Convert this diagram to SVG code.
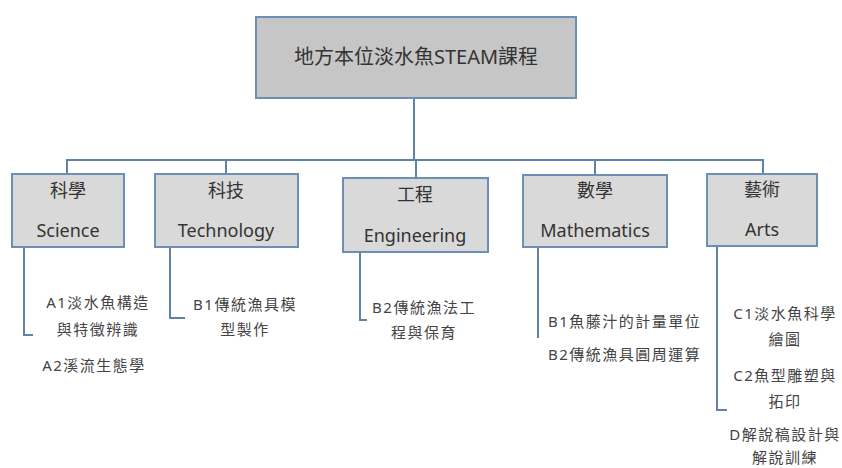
<svg xmlns="http://www.w3.org/2000/svg" width="842" height="468" viewBox="0 0 842 468">
<style>
text{font-family:"Noto Sans","Noto Sans CJK TC",sans-serif;fill:#333;text-anchor:middle}
.root rect{fill:#c6c6c6;stroke:#6d8fb5;stroke-width:2}
.cat rect{fill:#d9d9d9;stroke:#6d8fb5;stroke-width:2}
.title{font-size:20px}
.lab{font-size:18px}
.item{font-size:15px;letter-spacing:1.5px;fill:#444}
.conn path{fill:none;stroke:#5f82aa;stroke-width:2}
</style>
<rect width="842" height="468" fill="#fff"/>
<g class="conn">
<path d="M414 98V160"/>
<path d="M67 174V160H763V174"/>
<path d="M226 174V160"/>
<path d="M416 178V160"/>
<path d="M595 175V160"/>
<path d="M24 247V335H33"/>
<path d="M170 247V318H185"/>
<path d="M360 252V320H367"/>
<path d="M538 247V338"/>
<path d="M717 246V410H727"/>
</g>
<g id="root" class="root">
<rect x="256" y="17" width="320" height="81"/>
<text class="title" x="416" y="64">地方本位淡水魚STEAM課程</text>
</g>
<g id="science" class="cat">
<rect x="12" y="174" width="112" height="73"/>
<text class="lab" x="68" y="197">科學</text>
<text class="lab" x="68" y="237">Science</text>
</g>
<g id="technology" class="cat">
<rect x="155" y="174" width="143" height="73"/>
<text class="lab" x="226" y="197">科技</text>
<text class="lab" x="226" y="237">Technology</text>
</g>
<g id="engineering" class="cat">
<rect x="343" y="178" width="145" height="74"/>
<text class="lab" x="415" y="201">工程</text>
<text class="lab" x="415" y="242">Engineering</text>
</g>
<g id="mathematics" class="cat">
<rect x="523" y="175" width="144" height="72"/>
<text class="lab" x="595" y="197">數學</text>
<text class="lab" x="595" y="237">Mathematics</text>
</g>
<g id="arts" class="cat">
<rect x="707" y="174" width="110" height="72"/>
<text class="lab" x="762" y="196">藝術</text>
<text class="lab" x="762" y="236">Arts</text>
</g>
<g id="science-items">
<text class="item" x="98" y="308">A1淡水魚構造</text>
<text class="item" x="98" y="335">與特徵辨識</text>
<text class="item" x="94" y="371">A2溪流生態學</text>
</g>
<g id="technology-items">
<text class="item" x="245" y="310">B1傳統漁具模</text>
<text class="item" x="245" y="335">型製作</text>
</g>
<g id="engineering-items">
<text class="item" x="424" y="313">B2傳統漁法工</text>
<text class="item" x="424" y="338">程與保育</text>
</g>
<g id="mathematics-items">
<text class="item" x="548" y="327" style="text-anchor:start">B1魚藤汁的計量單位</text>
<text class="item" x="548" y="360" style="text-anchor:start">B2傳統漁具圓周運算</text>
</g>
<g id="arts-items">
<text class="item" x="785" y="319">C1淡水魚科學</text>
<text class="item" x="785" y="345">繪圖</text>
<text class="item" x="785" y="381">C2魚型雕塑與</text>
<text class="item" x="785" y="407">拓印</text>
<text class="item" x="785" y="440">D解說稿設計與</text>
<text class="item" x="785" y="463">解說訓練</text>
</g>
</svg>
